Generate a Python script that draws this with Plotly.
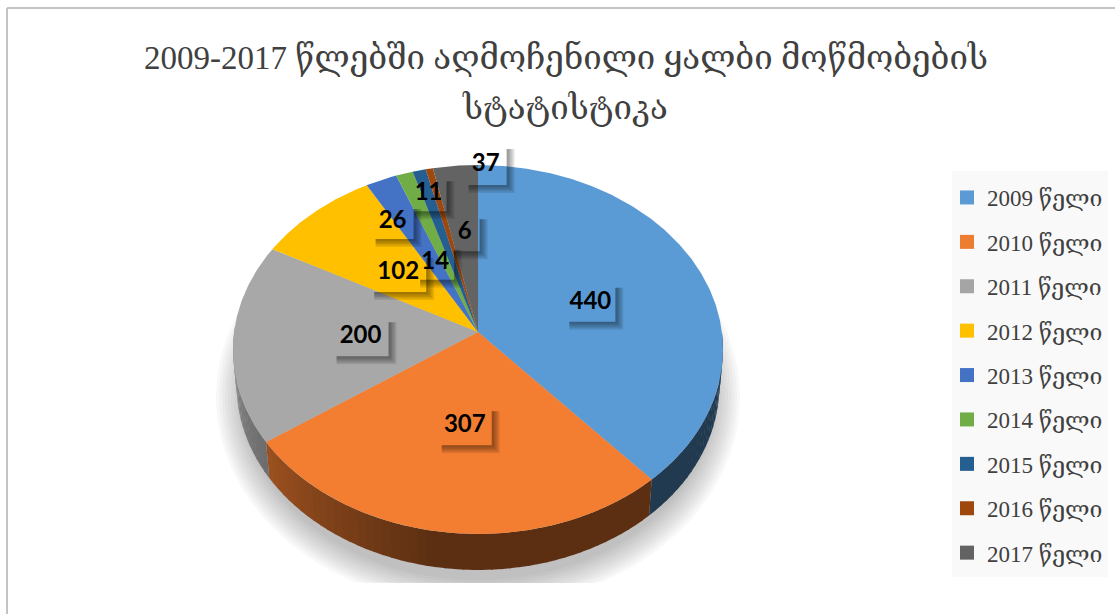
import numpy as np
import plotly.graph_objects as go

title_line1 = "2009-2017 წლებში აღმოჩენილი ყალბი მოწმობების"
title_line2 = "სტატისტიკა"
years = ["2009 წელი", "2010 წელი", "2011 წელი", "2012 წელი", "2013 წელი",
         "2014 წელი", "2015 წელი", "2016 წელი", "2017 წელი"]
counts = [440, 307, 200, 102, 26, 14, 11, 6, 37]
colors = ["#5b9bd5", "#f37e31", "#a8a8a8", "#ffc000", "#4472c4",
          "#70ad47", "#255e91", "#9e480e", "#636363"]
legend_colors = ["#5b9bd5", "#ed7d31", "#a5a5a5", "#ffc000", "#4472c4",
                 "#70ad47", "#255e91", "#9e480e", "#636363"]
# manual label displacement from the slice's mid-radius point, in pixels
label_nudge = [(2, 2), (3, -6), (5, 0), (2, 1), (-37, -34), (-6, 10), (-20, -57), (11, -17), (19, -84)]
label_box = [(50, 38), (54, 38), (56, 38), (56, 38), (42, 34), (38, 34), (36, 34), (30, 36), (42, 40)]

CX, CY, A, B, K = 478.0, 332.0, 243.9, 182.8, 0.0948
DEPTH, SHRINK = 36.0, 0.985
FF = "Liberation Serif, DejaVu Serif, DejaVu Sans, serif"


def rim(theta_deg):
    t = np.radians(theta_deg)
    w = 1 + K * np.cos(t)
    return A * np.sin(t) / w, -B * np.cos(t) / w


def shade(theta):
    f = 0.38 if theta <= 190 else 0.38 + (theta - 190) / 80 * 0.47
    return f


def mix(hex_color, f):
    r, g, b = (int(hex_color[i:i + 2], 16) for i in (1, 3, 5))
    return f"rgb({int(r * f)},{int(g * f)},{int(b * f)})"


total = sum(counts)
edges = np.concatenate([[0], np.cumsum(counts)]) / total * 360
fig = go.Figure()

# legend panel
fig.add_shape(type="rect", x0=952, x1=1108, y0=171, y1=577, line_width=0, fillcolor="#f9f9f9", layer="below")

# soft ground shadow
for e in range(18, -12, -3):
    t = np.linspace(0, 360, 181)
    xs = CX + (244 + e) * np.sin(np.radians(t))
    ys = np.minimum(397 - (192 + e) * np.cos(np.radians(t)), 583)
    fig.add_trace(go.Scatter(x=xs, y=ys, mode="lines", fill="toself", line=dict(width=0),
                             fillcolor="rgba(50,50,50,0.036)", showlegend=False, hoverinfo="skip"))

# side wall
for i, col in enumerate(colors):
    a0, a1 = max(edges[i], 90), min(edges[i + 1], 272)
    if a1 <= a0:
        continue
    steps = max(1, int((a1 - a0) / 2.0))
    grid = np.linspace(a0, a1, steps + 1)
    for s in range(steps):
        t0, t1 = grid[s], grid[s + 1] + (0.3 if s < steps - 1 else 0)
        tt = np.array([t0, t1])
        dx, dy = rim(tt)
        xs = np.concatenate([CX + dx, CX + dx[::-1] * SHRINK])
        ys = np.concatenate([CY + dy, CY + dy[::-1] + DEPTH])
        fig.add_trace(go.Scatter(x=xs, y=ys, mode="lines", fill="toself", line=dict(width=0),
                                 fillcolor=mix(col, shade((t0 + t1) / 2)), showlegend=False, hoverinfo="skip"))

# top face slices
for i, col in enumerate(colors):
    t = np.linspace(edges[i], edges[i + 1], max(3, int(edges[i + 1] - edges[i]) * 2))
    dx, dy = rim(t)
    fig.add_trace(go.Scatter(x=np.r_[CX, CX + dx, CX], y=np.r_[CY, CY + dy, CY], mode="lines", fill="toself",
                             line=dict(width=0), fillcolor=col, showlegend=False,
                             name=years[i], text=f"{years[i]}: {counts[i]}", hoverinfo="text"))

# data label positions
mids = (edges[:-1] + edges[1:]) / 2
lx, ly = [], []
for i, m in enumerate(mids):
    dx, dy = rim(m)
    lx.append(CX + 0.5 * dx + label_nudge[i][0])
    ly.append(CY + 0.5 * dy + label_nudge[i][1])

# label box shadows (right and bottom edges only, blurred)
for i in range(len(counts)):
    w, h = label_box[i]
    x0, x1, y0, y1 = lx[i] - w / 2, lx[i] + w / 2, ly[i] - h / 2, ly[i] + h / 2
    for g in (8, 6.5, 5, 3.5, 2):
        fig.add_shape(type="path", layer="above", line_width=0, fillcolor="rgba(0,0,0,0.09)",
                      path=f"M{x0 + 4},{y1} L{x1},{y1} L{x1},{y0 + 4} L{x1 + g},{y0 + 4} "
                           f"L{x1 + g},{y1 + g} L{x0 + 4},{y1 + g} Z")

fig.add_trace(go.Scatter(x=lx, y=ly, mode="text", text=[str(c) for c in counts],
                         textposition="middle center",
                         textfont=dict(family="Lato, Carlito, sans-serif", size=24, color="#000000", weight=700),
                         showlegend=False, hoverinfo="skip"))

# legend entries
for i, y in enumerate(years):
    fig.add_trace(go.Scatter(x=[None], y=[None], mode="markers", name=y, legendgroup=y,
                             marker=dict(symbol="square", size=14, color=legend_colors[i])))

# frame lines
fig.add_shape(type="line", x0=7, x1=7, y0=8, y1=614, line=dict(color="#c4c4c4", width=2))
fig.add_shape(type="line", x0=7, x1=1115, y0=8, y1=8, line=dict(color="#c4c4c4", width=2))

fig.add_annotation(x=565, y=108, xref="x", yref="y", text=title_line2, showarrow=False,
                   font=dict(family=FF, size=33, color="#404040"))

fig.update_layout(
    width=1115, height=614,
    margin=dict(l=0, r=0, t=0, b=0),
    paper_bgcolor="#ffffff", plot_bgcolor="#ffffff",
    title=dict(text=title_line1, x=566 / 1115, y=1 - 57 / 614, xanchor="center", yanchor="middle",
               font=dict(family=FF, size=33, color="#404040")),
    xaxis=dict(range=[0, 1115], visible=False, fixedrange=True),
    yaxis=dict(range=[614, 0], visible=False, fixedrange=True),
    showlegend=True,
    legend=dict(x=947 / 1115, y=1 - 176 / 614, xanchor="left", yanchor="top", bgcolor="rgba(0,0,0,0)",
                font=dict(family=FF, size=23, color="#404040"), tracegroupgap=11.5,
                itemclick=False, itemdoubleclick=False),
)
fig.write_html("out.html", post_script="document.body.style.margin='0';", config={"displayModeBar": False})
